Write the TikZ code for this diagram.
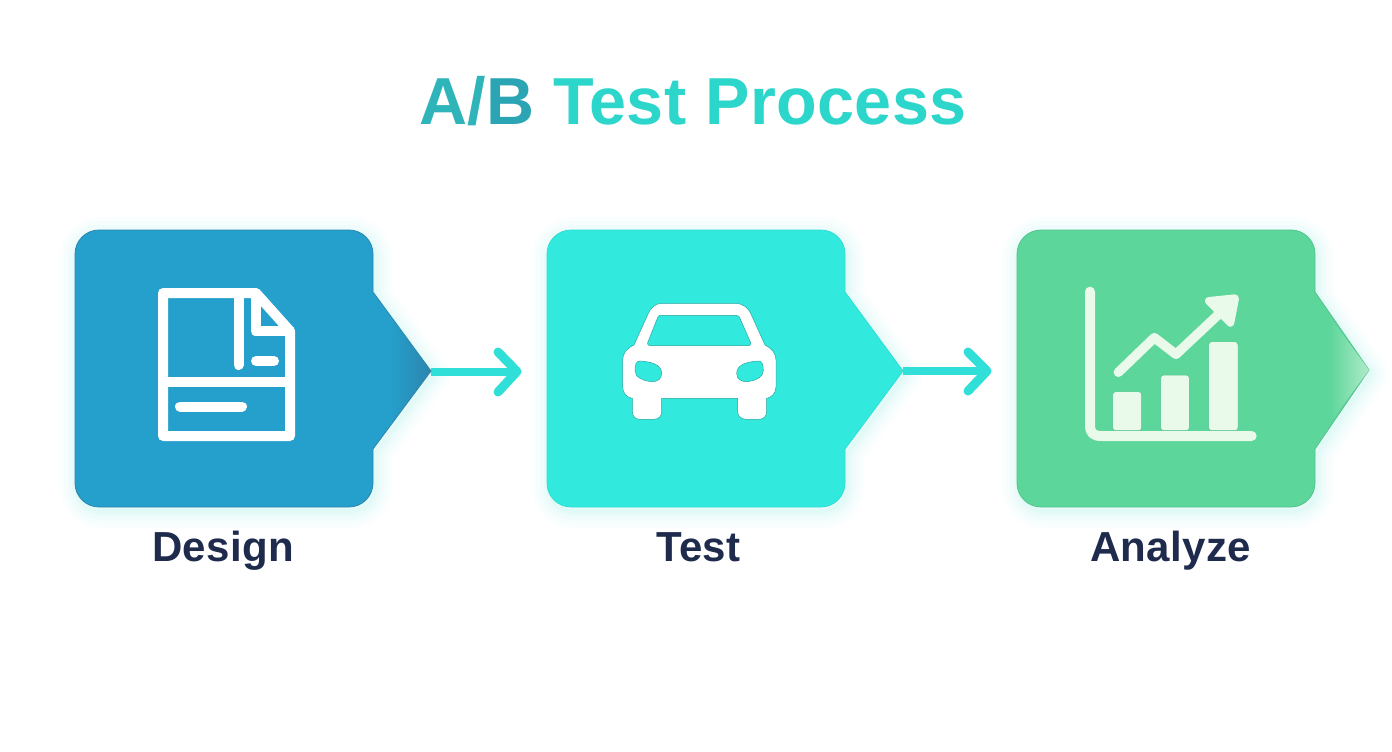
\documentclass[tikz,border=0pt]{standalone}
\usepackage{fontspec}
\usetikzlibrary{fadings}
\setmainfont{Liberation Sans}
\definecolor{designfill}{HTML}{259FCB}
\definecolor{designedge}{HTML}{2D86AE}
\definecolor{testfill}{HTML}{32E9DD}
\definecolor{testedge}{HTML}{2FDDD2}
\definecolor{analyzefill}{HTML}{5CD69A}
\definecolor{analyzeedge}{HTML}{52C48C}
\definecolor{arrowcyan}{HTML}{30E0D8}
\definecolor{labelnavy}{HTML}{1F2B4D}
\definecolor{iconmint}{HTML}{E9F9EA}
\definecolor{titlea}{HTML}{2FB4BA}
\definecolor{titleb}{HTML}{2BA4B4}
\definecolor{titlec}{HTML}{2DD6CB}
\tikzfading[name=tipfade,left color=transparent!100,right color=transparent!0]
\tikzset{
  titletext/.style={anchor=base,inner sep=0pt,font=\fontsize{66.5}{70}\selectfont\bfseries\addfontfeature{LetterSpace=.7},text=titlec},
  steplabel/.style={anchor=base,inner sep=0pt,font=\fontsize{42}{44}\selectfont\bfseries\addfontfeature{LetterSpace=.8},text=labelnavy},
  flowline/.style={draw=arrowcyan,line width=8pt},
  flowhead/.style={draw=arrowcyan,line width=9pt,line cap=round,line join=round},
  iconline/.style={draw=white,line width=10pt,line join=round,line cap=round},
}
\newcommand{\procglow}[3]{%
  \foreach \w/\o in {34/.018,26/.022,18/.026,10/.03,4/.04}{
    \draw[arrowcyan,opacity=\o,line width=\w pt,line join=round,shift={(2,4)}]
      (#1,370) [rounded corners=24] -- (#1,230) -- ({#1+298},230) [sharp corners] -- ({#1+298},292)
      -- (#2,#3) -- ({#1+298},449) [rounded corners=24] -- ({#1+298},507) -- (#1,507) -- cycle;
  }
}
\newcommand{\procbox}[5]{%
  \draw[fill=#4,draw=#5,line width=.8pt]
    (#1,370) [rounded corners=24] -- (#1,230) -- ({#1+298},230) [sharp corners] -- ({#1+298},292)
    -- (#2,#3) -- ({#1+298},449) [rounded corners=24] -- ({#1+298},507) -- (#1,507) -- cycle;
}
\newcommand{\tipshade}[3]{%
  \fill[#3,path fading=tipfade] ({#1-40},{#2-54}) -- (#1,#2) -- ({#1-40},{#2+54}) -- cycle;
}
\begin{document}
\begin{tikzpicture}[x=1pt,y=-1pt]
\useasboundingbox[fill=white] (0,0) rectangle (1392,752);

\node[titletext] (title) at (693,124) {\textcolor{titlea}{A/}\textcolor{titleb}{B} Test Process};

\coordinate (tipA) at (431,371.5);
\coordinate (tipB) at (903,371);
\coordinate (endA) at (517,371.5);
\coordinate (endB) at (987,371);

\procglow{75}{431}{371}
\procglow{547}{903}{371}
\procglow{1017}{1369}{370}

% connectors
\draw[flowline] (tipA) -- (endA);
\draw[flowhead] (498,352) -- (endA) -- (498,392);
\draw[flowline] (tipB) -- (endB);
\draw[flowhead] (968,352) -- (endB) -- (968,391);

% boxes
\procbox{75}{431}{371}{designfill}{designedge}
\tipshade{431}{371}{designedge}
\procbox{547}{903}{371}{testfill}{testedge}
\procbox{1017}{1369}{370}{analyzefill}{analyzeedge}
\tipshade{1369}{370}{iconmint!60!analyzefill}

% document icon
\draw[iconline] (163,293) -- (256,293) -- (290,331) -- (290,436) -- (163,436) -- cycle;
\draw[iconline,line cap=butt] (163,381.5) -- (290,381.5);
\draw[iconline] (238.5,293) -- (238.5,365);
\draw[iconline] (255.5,293) -- (255.5,331) -- (290,331);
\draw[iconline] (256,361) -- (274,361);
\draw[iconline] (180,406.5) -- (242,406.5);

% car icon
\begin{scope}[shift={(600,280)},scale=1/3]
\path[fill=white,draw=testedge!75!black,line width=.5pt,even odd rule]
  (185,70) -- (405,70) .. controls (430,70) and (445,85) .. (452,100)
  -- (495,195) .. controls (515,205) and (528,220) .. (528,240)
  -- (528,320) .. controls (528,340) and (515,352) .. (500,355)
  -- (500,395) .. controls (500,410) and (490,418) .. (475,418)
  -- (440,418) .. controls (425,418) and (413,410) .. (413,395)
  -- (413,355) -- (185,355) -- (185,395)
  .. controls (185,410) and (175,418) .. (160,418)
  -- (120,418) .. controls (107,418) and (97,410) .. (97,395)
  -- (97,355) .. controls (80,352) and (68,340) .. (68,320)
  -- (68,240) .. controls (68,220) and (80,205) .. (102,195)
  -- (145,100) .. controls (152,85) and (165,70) .. (185,70) -- cycle
  (180,106) -- (408,106) .. controls (415,106) and (418,110) .. (420,115)
  -- (452,188) .. controls (454,194) and (450,197) .. (445,197)
  -- (150,197) .. controls (144,197) and (141,193) .. (143,188)
  -- (172,115) .. controls (174,110) and (176,106) .. (180,106) -- cycle
  (120,243) .. controls (150,245) and (185,252) .. (185,280)
  .. controls (185,298) and (172,305) .. (155,305)
  .. controls (130,303) and (105,292) .. (105,272)
  .. controls (105,255) and (108,243) .. (120,243) -- cycle
  (475,243) .. controls (487,243) and (490,255) .. (490,272)
  .. controls (490,292) and (465,303) .. (440,305)
  .. controls (423,305) and (410,298) .. (410,280)
  .. controls (410,252) and (445,245) .. (475,243) -- cycle;
\end{scope}

% chart icon
\begin{scope}[shift={(1060,270)},scale=1/3]
\draw[draw=iconmint,line width=10pt,line cap=round,line join=round]
  (90,65) -- (90,465) .. controls (90,490) and (100,498) .. (125,498) -- (575,498);
\draw[draw=iconmint,line width=9.5pt,line cap=round,line join=round]
  (175,307) -- (283,203) -- (348,253) -- (495,115);
\fill[iconmint,draw=iconmint,line width=8pt,line join=round]
  (447,93) -- (525,85) -- (511,158) -- cycle;
\foreach \xa/\xb/\yt in {158/245/365,302/388/315,446/534/215}{
  \fill[iconmint,draw=analyzeedge,line width=.5pt,rounded corners=3pt] (\xa,\yt) rectangle (\xb,482);
}
\end{scope}

% labels
\node[steplabel] (design) at (223,561) {Design};
\node[steplabel] (test) at (698.5,561) {Test};
\node[steplabel] (analyze) at (1170.5,561) {Analyze};
\end{tikzpicture}
\end{document}
